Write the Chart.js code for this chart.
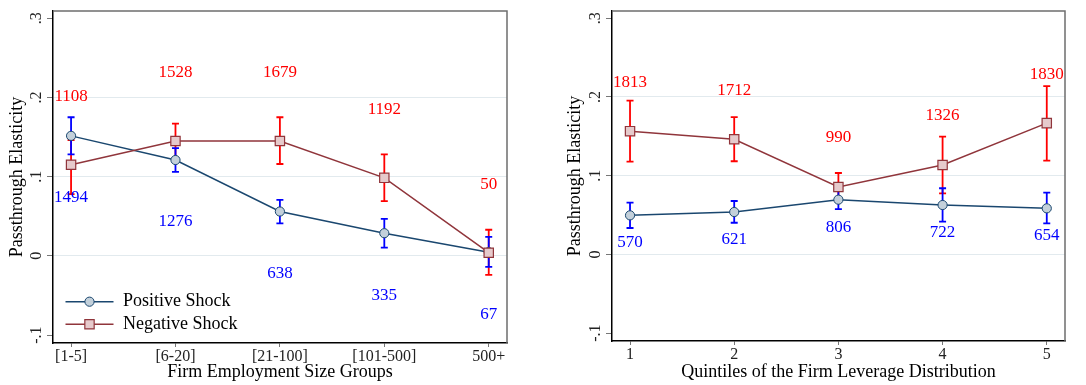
<!DOCTYPE html>
<html>
<head>
<meta charset="utf-8">
<script src="https://cdn.jsdelivr.net/npm/chart.js@4.4.1/dist/chart.umd.min.js"></script>
<style>
  body { margin: 0; background: #fff; }
  .wrap { display: flex; width: 1086px; height: 385px; }
  canvas { display: block; }
</style>
</head>
<body>
<div class="wrap">
  <canvas id="sizeChart" width="543" height="385"></canvas>
  <canvas id="levChart" width="543" height="385"></canvas>
</div>
<script>
// posiciones de las categorías en el eje x
const xPos = [1, 2, 3, 4, 5];
const sizeGroups = ['[1-5]', '[6-20]', '[21-100]', '[101-500]', '500+'];
const quintiles = ['1', '2', '3', '4', '5'];
const yTicks = [-0.1, 0, 0.1, 0.2, 0.3];

// Panel izquierdo: tamaño de empresa
const posSize = [0.1515, 0.121, 0.056, 0.0286, 0.0047];
const posSizeLo = [0.128, 0.106, 0.041, 0.0105, -0.0139];
const posSizeHi = [0.175, 0.136, 0.0707, 0.0467, 0.024];
const posSizeN = [1494, 1276, 638, 335, 67];
const negSize = [0.115, 0.145, 0.145, 0.0985, 0.004];
const negSizeLo = [0.078, 0.124, 0.116, 0.069, -0.024];
const negSizeHi = [0.146, 0.167, 0.175, 0.128, 0.033];
const negSizeN = [1108, 1528, 1679, 1192, 50];

// Panel derecho: quintiles de apalancamiento
const posLev = [0.0496, 0.0538, 0.0695, 0.0627, 0.0585];
const posLevLo = [0.0335, 0.0402, 0.0576, 0.0415, 0.0394];
const posLevHi = [0.0657, 0.0678, 0.081, 0.084, 0.0784];
const posLevN = [570, 621, 806, 722, 654];
const negLev = [0.1565, 0.1463, 0.0856, 0.1136, 0.1667];
const negLevLo = [0.1178, 0.1183, 0.068, 0.0776, 0.119];
const negLevHi = [0.1954, 0.1743, 0.1034, 0.1496, 0.2137];
const negLevN = [1813, 1712, 990, 1326, 1830];

const FONT = '"Liberation Serif", "Times New Roman", serif';
const NAVY = '#1a476f';
const MAROON = '#90353b';

function fmtTick(v) {
  if (Math.abs(v) < 1e-9) return '0';
  const s = Math.abs(v).toFixed(1).replace(/^0/, '');
  return (v < 0 ? '-' : '') + s;
}

function pts(vals) {
  return vals.map((v, i) => ({ x: xPos[i], y: v }));
}

// barras de error, etiquetas, marco y leyenda
const extras = {
  id: 'extras',
  beforeDatasetsDraw(chart, args, o) {
    const { ctx, scales: { x, y } } = chart;
    ctx.save();
    ctx.lineWidth = 1.8;
    o.bars.forEach(b => {
      ctx.strokeStyle = b.color;
      b.lo.forEach((lo, i) => {
        const px = x.getPixelForValue(xPos[i]);
        const y1 = y.getPixelForValue(lo);
        const y2 = y.getPixelForValue(b.hi[i]);
        ctx.beginPath();
        ctx.moveTo(px, y1); ctx.lineTo(px, y2);
        ctx.moveTo(px - 3.5, y1); ctx.lineTo(px + 3.5, y1);
        ctx.moveTo(px - 3.5, y2); ctx.lineTo(px + 3.5, y2);
        ctx.stroke();
      });
    });
    ctx.restore();
  },
  afterDatasetsDraw(chart, args, o) {
    const { ctx, scales: { x, y } } = chart;
    ctx.save();
    ctx.font = '17px ' + FONT;
    ctx.textAlign = 'center';
    ctx.textBaseline = 'middle';
    o.labels.forEach(l => {
      ctx.fillStyle = l.color;
      l.text.forEach((t, i) => {
        ctx.fillText(String(t), x.getPixelForValue(xPos[i]), y.getPixelForValue(l.at[i]) + l.dy);
      });
    });
    ctx.restore();
  },
  afterDraw(chart, args, o) {
    const { ctx, chartArea: a } = chart;
    ctx.save();
    ctx.strokeStyle = '#6e6e6e';
    ctx.lineWidth = 1.5;
    ctx.beginPath();
    ctx.moveTo(a.left, a.top); ctx.lineTo(a.right, a.top); ctx.lineTo(a.right, a.bottom);
    ctx.stroke();
    if (o.legend) {
      const x0 = a.left + 12.5;
      const rows = [a.bottom - 41.3, a.bottom - 18.7];
      rows.forEach((ry, k) => {
        const ds = chart.data.datasets[k];
        ctx.strokeStyle = ds.borderColor;
        ctx.lineWidth = ds.borderWidth;
        ctx.beginPath();
        ctx.moveTo(x0, ry); ctx.lineTo(x0 + 48, ry);
        ctx.stroke();
        ctx.fillStyle = ds.pointBackgroundColor;
        ctx.strokeStyle = ds.pointBorderColor;
        ctx.lineWidth = ds.pointBorderWidth;
        ctx.beginPath();
        if (ds.pointStyle === 'rect') {
          const h = ds.pointRadius * Math.SQRT1_2;
          ctx.rect(x0 + 24 - h, ry - h, 2 * h, 2 * h);
        } else {
          ctx.arc(x0 + 24, ry, ds.pointRadius, 0, Math.PI * 2);
        }
        ctx.fill(); ctx.stroke();
        ctx.fillStyle = '#000';
        ctx.font = '18px ' + FONT;
        ctx.textAlign = 'left';
        ctx.textBaseline = 'middle';
        ctx.fillText(ds.label, x0 + 57.5, ry);
      });
    }
    ctx.restore();
  }
};

function makePanel(id, cfg) {
  return new Chart(document.getElementById(id), {
    type: 'line',
    data: {
      datasets: [{
        label: 'Positive Shock',
        data: pts(cfg.pos),
        order: 1,
        borderColor: NAVY,
        borderWidth: 1.5,
        pointStyle: 'circle',
        pointRadius: 4.6,
        pointBorderWidth: 1,
        pointBackgroundColor: '#c3d0da',
        pointBorderColor: NAVY
      }, {
        label: 'Negative Shock',
        data: pts(cfg.neg),
        order: 0,
        borderColor: MAROON,
        borderWidth: 1.5,
        pointStyle: 'rect',
        pointRadius: 6.6,
        pointBorderWidth: 1.2,
        pointBackgroundColor: '#e6cacc',
        pointBorderColor: MAROON
      }]
    },
    options: {
      responsive: false,
      animation: false,
      layout: { padding: cfg.padding },
      plugins: {
        legend: { display: false },
        tooltip: { enabled: false },
        extras: {
          legend: cfg.legend,
          bars: [
            { color: '#ff0000', lo: cfg.negLo, hi: cfg.negHi },
            { color: '#0000ff', lo: cfg.posLo, hi: cfg.posHi }
          ],
          labels: [
            { color: '#ff0000', text: cfg.negN, at: cfg.neg, dy: cfg.negDy },
            { color: '#0000ff', text: cfg.posN, at: cfg.pos, dy: cfg.posDy }
          ]
        }
      },
      scales: {
        x: {
          type: 'linear',
          min: 0.827,
          max: 5.175,
          afterBuildTicks: s => { s.ticks = xPos.map(v => ({ value: v })); },
          afterFit: s => { s.height = cfg.xHeight; },
          ticks: {
            callback: (v, i) => cfg.cats[i],
            autoSkip: false,
            maxRotation: 0,
            padding: 0,
            color: '#222',
            font: { family: FONT, size: 16 }
          },
          grid: { drawOnChartArea: false, tickLength: 4, tickColor: '#777' },
          border: { color: '#000', width: 1.5 },
          title: {
            display: true,
            text: cfg.xTitle,
            color: '#000',
            font: { family: FONT, size: 18 },
            padding: { top: 0, bottom: 2 }
          }
        },
        y: {
          type: 'linear',
          min: -0.11,
          max: 0.309,
          afterBuildTicks: s => { s.ticks = yTicks.map(v => ({ value: v })); },
          afterFit: s => { s.width = cfg.yWidth; },
          ticks: {
            callback: v => fmtTick(v),
            minRotation: 90,
            maxRotation: 90,
            crossAlign: 'center',
            padding: 1.5,
            color: '#222',
            font: { family: FONT, size: 16 }
          },
          grid: {
            color: c => (c.tick && c.tick.value > -0.05 && c.tick.value < 0.25) ? '#e2eaee' : 'rgba(0,0,0,0)',
            tickColor: '#777',
            tickLength: 6
          },
          border: { color: '#000', width: 1.5 },
          title: {
            display: true,
            text: 'Passthrough Elasticity',
            color: '#000',
            font: { family: FONT, size: 18 },
            padding: { top: 6, bottom: 0 }
          }
        }
      }
    },
    plugins: [extras]
  });
}

makePanel('sizeChart', {
  cats: sizeGroups,
  xTitle: 'Firm Employment Size Groups',
  pos: posSize, posLo: posSizeLo, posHi: posSizeHi, posN: posSizeN,
  neg: negSize, negLo: negSizeLo, negHi: negSizeHi, negN: negSizeN,
  posDy: 62, negDy: -68,
  legend: true,
  padding: { left: 0, right: 36, top: 11, bottom: 0 },
  yWidth: 53,
  xHeight: 42
});

makePanel('levChart', {
  cats: quintiles,
  xTitle: 'Quintiles of the Firm Leverage Distribution',
  pos: posLev, posLo: posLevLo, posHi: posLevHi, posN: posLevN,
  neg: negLev, negLo: negLevLo, negHi: negLevHi, negN: negLevN,
  posDy: 27.5, negDy: -49,
  legend: false,
  padding: { left: 15, right: 21, top: 11, bottom: 0 },
  yWidth: 54,
  xHeight: 44
});
</script>
</body>
</html>
